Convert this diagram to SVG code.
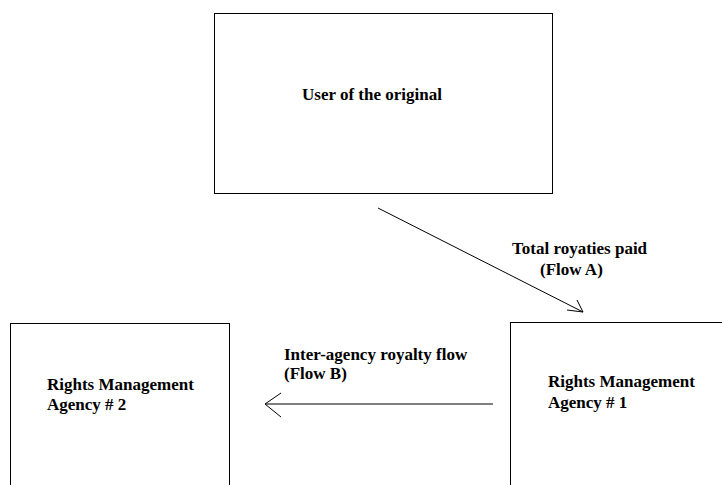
<svg xmlns="http://www.w3.org/2000/svg" width="722" height="485" viewBox="0 0 722 485">
<style>
.box{fill:#fff;stroke:#000;stroke-width:1}
.t{font-family:"Liberation Serif","Times New Roman",serif;font-weight:bold;font-size:17px;fill:#000}
.ln{stroke:#000;stroke-width:1;fill:none}
</style>
<rect width="722" height="485" fill="#fff"/>
<g id="user">
<rect class="box" x="214.5" y="13.5" width="338" height="180"/>
<text class="t" x="302" y="100">User of the original</text>
</g>
<g id="agency2">
<rect class="box" x="10.5" y="323.5" width="219" height="170"/>
<text class="t" x="47" y="390">Rights Management</text>
<text class="t" x="47" y="410">Agency # 2</text>
</g>
<g id="agency1">
<rect class="box" x="510.5" y="322.5" width="220" height="170"/>
<text class="t" x="548" y="387">Rights Management</text>
<text class="t" x="548" y="408">Agency # 1</text>
</g>
<g id="connectors">
<line class="ln" x1="378" y1="208" x2="583" y2="312"/>
<polyline class="ln" points="577,300 583,312 567,310"/>
<line class="ln" x1="493" y1="404" x2="265" y2="404"/>
<polyline class="ln" points="281,393 265,404 281,417"/>
<text class="t" x="512" y="254">Total royaties paid</text>
<text class="t" x="540" y="275">(Flow A)</text>
<text class="t" x="284" y="360">Inter-agency royalty flow</text>
<text class="t" x="284" y="379">(Flow B)</text>
</g>
</svg>
